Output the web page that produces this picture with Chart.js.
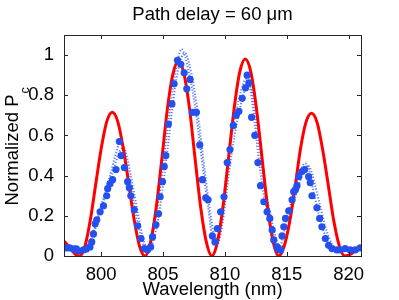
<!DOCTYPE html>
<html>
<head>
<meta charset="utf-8">
<script src="https://cdn.jsdelivr.net/npm/chart.js@4/dist/chart.umd.min.js"></script>
<style>
  html, body { margin: 0; padding: 0; background: #fff; }
</style>
</head>
<body>
<canvas id="chart" width="399" height="300"></canvas>
<script>
// theory curve (red)
const theoryX = [797, 797.5, 797.9, 798.25, 798.7, 799.13, 799.57, 800.02, 800.46, 800.9, 801.34, 801.78, 802.23, 802.67, 803.1, 803.55,
  804.0, 804.45, 804.9, 805.35, 805.8, 806.25, 806.7, 807.15, 807.6, 808.05, 808.5, 808.95,
  809.4, 809.85, 810.3, 810.75, 811.2, 811.65, 812.1, 812.55, 813.0, 813.45, 813.9, 814.35,
  814.8, 815.25, 815.7, 816.1, 816.55, 817.0, 817.45, 817.9, 818.35, 818.8, 819.25, 819.7, 820.2, 820.6, 821];
const theoryY = [0.075, 0.04, 0.01, 0, 0.05, 0.18, 0.36, 0.54, 0.67, 0.715, 0.67, 0.54, 0.36, 0.18, 0.05, 0,
  0.07, 0.24, 0.48, 0.73, 0.905, 0.97, 0.905, 0.73, 0.48, 0.24, 0.07, 0,
  0.07, 0.245, 0.49, 0.735, 0.915, 0.98, 0.915, 0.735, 0.49, 0.245, 0.07, 0,
  0.05, 0.175, 0.355, 0.53, 0.665, 0.71, 0.665, 0.53, 0.355, 0.175, 0.05, 0, 0.01, 0.03, 0.05];

// measured points (blue dots)
const measX = [797.13, 797.45, 797.77, 798.0, 798.2, 798.57, 798.8, 799.1, 799.24, 799.38, 799.52, 799.65, 799.92, 800.19, 800.45, 800.53,
  800.72, 800.93, 801.2, 801.47, 801.62, 801.88, 802.14, 802.28, 802.4, 802.68, 802.95, 803.22, 803.49, 803.75, 804.0, 804.15,
  804.43, 804.64, 804.77, 804.96, 805.1, 805.23, 805.44, 805.72, 805.9, 806.17, 806.44, 806.71, 806.92, 807.19, 807.38, 807.7,
  807.97, 808.18, 808.45, 808.64, 808.99, 809.2, 809.39, 809.66, 809.93, 810.19, 810.41, 810.68, 810.92, 811.13, 811.4, 811.67,
  811.8, 811.94, 812.16, 812.42, 812.67, 812.88, 813.15, 813.41, 813.63, 813.82, 813.95, 814.22, 814.36, 814.5, 814.62, 814.76,
  814.9, 815.16, 815.43, 815.56, 815.7, 815.83, 815.97, 816.23, 816.45, 816.77, 816.9, 817.04, 817.44, 817.66, 817.84, 818.12,
  818.38, 818.65, 819.05, 819.3, 819.72, 820.13, 820.53, 820.93];
const measY = [0.04, 0.04, 0.035, 0.035, 0.025, 0.03, 0.035, 0.045, 0.07, 0.11, 0.16, 0.18, 0.22, 0.25, 0.30, 0.335,
  0.36, 0.38, 0.43, 0.57, 0.50, 0.44, 0.37, 0.34, 0.30, 0.23, 0.15, 0.087, 0.037, 0.03, 0.045, 0.095,
  0.155, 0.21, 0.295, 0.37, 0.445, 0.50, 0.657, 0.757, 0.857, 0.974, 0.954, 0.912, 0.832, 0.879, 0.715, 0.715,
  0.553, 0.38, 0.29, 0.28, 0.10, 0.07, 0.137, 0.22, 0.295, 0.465, 0.53, 0.65, 0.70, 0.72, 0.785, 0.837,
  0.90, 0.862, 0.69, 0.60, 0.465, 0.35, 0.27, 0.22, 0.187, 0.13, 0.08, 0.045, 0.03, 0.03, 0.10, 0.145,
  0.187, 0.225, 0.28, 0.32, 0.33, 0.35, 0.395, 0.42, 0.43, 0.395, 0.365, 0.30, 0.24, 0.187, 0.145, 0.087,
  0.053, 0.037, 0.03, 0.03, 0.037, 0.03, 0.03, 0.04];

// simulated spread (blue dotted)
const simAX = [797, 797.5, 798, 798.4, 798.8, 799.2, 799.6, 800, 800.4, 800.8, 801.2, 801.5, 801.8, 802.1, 802.5, 802.9, 803.3, 803.6,
  803.9, 804.3, 804.7, 805.1, 805.5, 805.9, 806.2, 806.5, 806.8, 807.1, 807.5, 807.9, 808.3, 808.7, 809.0, 809.3, 809.7, 810.1,
  810.5, 810.9, 811.3, 811.7, 812.0, 812.3, 812.7, 813.1, 813.5, 813.9, 814.3, 814.6, 815.0, 815.4, 815.8, 816.2, 816.5, 816.8,
  817.1, 817.5, 817.9, 818.3, 818.7, 819.2, 819.8, 820.4, 821];
const simAY = [0.035, 0.035, 0.03, 0.025, 0.04, 0.09, 0.17, 0.25, 0.33, 0.42, 0.51, 0.56, 0.53, 0.44, 0.31, 0.18, 0.08, 0.03,
  0.05, 0.15, 0.30, 0.50, 0.70, 0.88, 0.98, 1.03, 0.99, 0.91, 0.78, 0.60, 0.40, 0.22, 0.09, 0.08, 0.20, 0.40,
  0.58, 0.72, 0.82, 0.88, 0.85, 0.72, 0.50, 0.32, 0.20, 0.10, 0.04, 0.07, 0.18, 0.28, 0.37, 0.44, 0.46, 0.43,
  0.34, 0.23, 0.14, 0.07, 0.04, 0.03, 0.03, 0.03, 0.04];
const simBX = [797, 797.6, 798.2, 798.7, 799.1, 799.5, 799.9, 800.3, 800.7, 801.1, 801.5, 801.8, 802.1, 802.4, 802.8, 803.2, 803.6,
  803.9, 804.2, 804.6, 805.0, 805.4, 805.8, 806.2, 806.5, 806.8, 807.1, 807.5, 807.9, 808.3, 808.7, 809.1, 809.4, 809.8, 810.2,
  810.6, 811.0, 811.4, 811.8, 812.1, 812.4, 812.8, 813.2, 813.6, 814.0, 814.4, 814.7, 815.1, 815.5, 815.9, 816.3, 816.7, 817.0,
  817.3, 817.7, 818.1, 818.5, 818.9, 819.4, 820, 820.6, 821];
const simBY = [0.03, 0.03, 0.025, 0.03, 0.06, 0.13, 0.21, 0.29, 0.37, 0.45, 0.52, 0.54, 0.49, 0.40, 0.27, 0.14, 0.05,
  0.03, 0.07, 0.18, 0.35, 0.55, 0.76, 0.92, 0.99, 1.01, 0.96, 0.84, 0.67, 0.46, 0.27, 0.11, 0.06, 0.16, 0.35,
  0.53, 0.67, 0.78, 0.85, 0.84, 0.74, 0.54, 0.36, 0.23, 0.12, 0.05, 0.05, 0.14, 0.25, 0.34, 0.41, 0.45, 0.42,
  0.35, 0.25, 0.15, 0.08, 0.04, 0.03, 0.025, 0.03, 0.035];

const xTicks = [800, 805, 810, 815, 820];
const yTicks = [0, 0.2, 0.4, 0.6, 0.8, 1];
const titleText = 'Path delay = 60 \u03bcm';

const FONT = 'Liberation Sans, Arial, Helvetica, sans-serif';
const toPoints = (xs, ys) => xs.map((x, i) => ({ x: x, y: ys[i] }));

// box with inward ticks on all four sides, like matlab
const boxPlugin = {
  id: 'box',
  afterDatasetsDraw(chart) {
    const { ctx, chartArea: a, scales } = chart;
    ctx.save();
    ctx.strokeStyle = '#262626';
    ctx.lineWidth = 1;
    ctx.beginPath();
    xTicks.forEach(v => {
      const px = Math.round(scales.x.getPixelForValue(v)) + 0.5;
      ctx.moveTo(px, a.bottom); ctx.lineTo(px, a.bottom - 4);
      ctx.moveTo(px, a.top); ctx.lineTo(px, a.top + 4);
    });
    yTicks.forEach(v => {
      const py = Math.round(scales.y.getPixelForValue(v)) + 0.5;
      ctx.moveTo(a.left, py); ctx.lineTo(a.left + 4, py);
      ctx.moveTo(a.right, py); ctx.lineTo(a.right - 4, py);
    });
    ctx.stroke();
    ctx.strokeRect(Math.round(a.left) + 0.5, Math.round(a.top) + 0.5,
      Math.round(a.right - a.left), Math.round(a.bottom - a.top));
    ctx.restore();
  }
};

// title centred over the axes, y title with subscript c
const textPlugin = {
  id: 'texts',
  afterDraw(chart) {
    const { ctx, chartArea: a } = chart;
    ctx.save();
    ctx.fillStyle = '#000';
    ctx.font = '18.5px ' + FONT;
    ctx.textAlign = 'center';
    ctx.textBaseline = 'alphabetic';
    ctx.fillText(titleText, (a.left + a.right) / 2, 19.5);

    const cy = (a.top + a.bottom) / 2;
    ctx.translate(17.5, cy);
    ctx.rotate(-Math.PI / 2);
    ctx.textAlign = 'left';
    const main = 'Normalized P';
    const w = ctx.measureText(main).width;
    const start = -60;
    ctx.fillText(main, start, 0);
    ctx.font = '12.5px ' + FONT;
    ctx.fillText('c', start + w + 1, 11);
    ctx.restore();
  }
};

new Chart(document.getElementById('chart'), {
  type: 'scatter',
  data: {
    datasets: [{
      label: 'Measured',
      data: toPoints(measX, measY),
      backgroundColor: '#2450f0',
      borderColor: '#2450f0',
      borderWidth: 0,
      pointRadius: 3.6,
      showLine: false
    }, {
      label: 'Theory',
      data: toPoints(theoryX, theoryY),
      showLine: true,
      borderColor: '#ff0000',
      borderWidth: 3,
      pointRadius: 0,
      cubicInterpolationMode: 'monotone'
    }, {
      label: 'Sim A',
      data: toPoints(simAX, simAY),
      showLine: true,
      borderColor: 'rgba(50, 90, 240, 0.8)',
      borderWidth: 2,
      borderDash: [1.2, 1.8],
      pointRadius: 0,
      cubicInterpolationMode: 'monotone'
    }, {
      label: 'Sim B',
      data: toPoints(simBX, simBY),
      showLine: true,
      borderColor: 'rgba(50, 90, 240, 0.8)',
      borderWidth: 2,
      borderDash: [1.2, 1.8],
      pointRadius: 0,
      cubicInterpolationMode: 'monotone'
    }]
  },
  options: {
    responsive: false,
    devicePixelRatio: 1,
    animation: false,
    layout: { padding: { left: 0, right: 38, top: 35, bottom: 0 } },
    plugins: {
      legend: { display: false },
      tooltip: { enabled: false },
      title: { display: false }
    },
    scales: {
      x: {
        type: 'linear',
        min: 797,
        max: 821,
        afterBuildTicks: s => { s.ticks = xTicks.map(v => ({ value: v })); },
        afterFit: s => { s.height = 44; },
        grid: { display: false },
        border: { display: false },
        ticks: { color: '#000', padding: 0, maxRotation: 0, font: { family: FONT, size: 18.5 } },
        title: {
          display: true,
          text: 'Wavelength (nm)',
          color: '#000',
          font: { family: FONT, size: 18.5 },
          padding: { top: 0, bottom: -1 }
        }
      },
      y: {
        type: 'linear',
        min: 0,
        max: 1.1,
        afterBuildTicks: s => { s.ticks = yTicks.map(v => ({ value: v })); },
        afterFit: s => { s.width = 64; },
        grid: { display: false },
        border: { display: false },
        ticks: {
          color: '#000',
          padding: 2,
          font: { family: FONT, size: 18.5 },
          callback: v => String(Math.round(v * 10) / 10)
        }
      }
    }
  },
  plugins: [boxPlugin, textPlugin]
});
</script>
</body>
</html>
